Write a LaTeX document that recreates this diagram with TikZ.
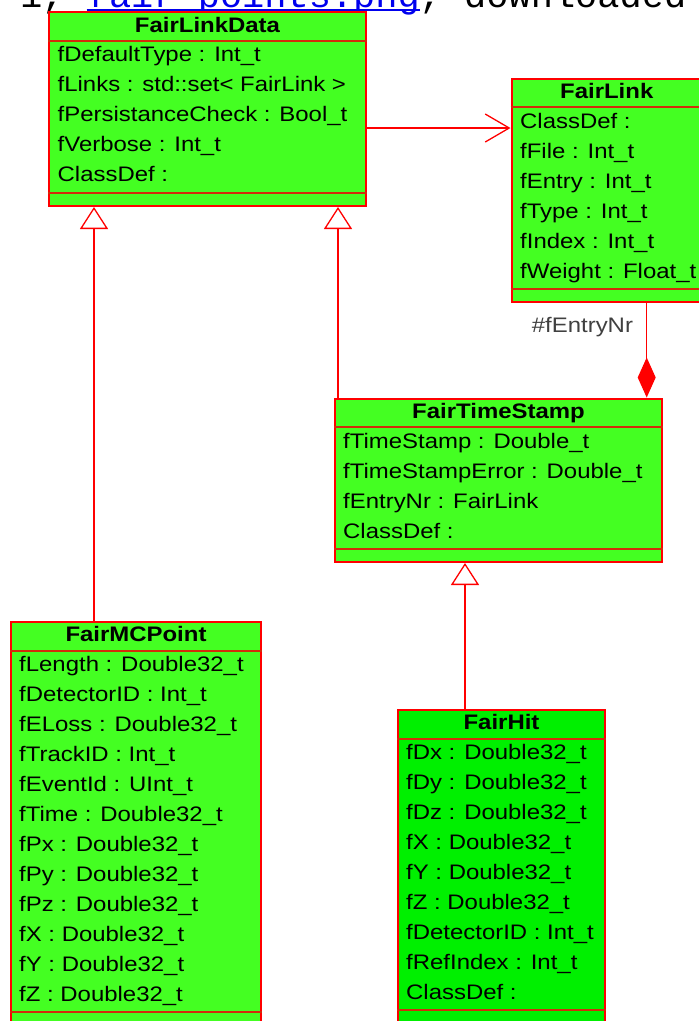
\documentclass[tikz,border=0pt]{standalone}
\usepackage{fontspec}
\usetikzlibrary{arrows.meta}
\newfontfamily\umlfont{Liberation Sans}[FakeStretch=1.14]
\newfontfamily\hdrfont{Liberation Mono}
\definecolor{umlgreen}{RGB}{68,255,34}
\definecolor{hitgreen}{RGB}{0,240,0}
\definecolor{umlred}{RGB}{255,0,0}
\definecolor{sepred}{RGB}{210,45,10}
\definecolor{lblgray}{RGB}{64,64,64}
\definecolor{linkblue}{RGB}{0,0,238}
\tikzset{
  classbox/.style={draw=umlred, line width=2pt, fill=umlgreen, inner sep=0pt, anchor=north west},
  sepline/.style={draw=sepred, line width=2pt},
  attr/.style={anchor=base west, inner sep=0pt, font={\umlfont\fontsize{21pt}{25pt}\selectfont}},
  ctitle/.style={anchor=base, inner sep=0pt, font={\umlfont\bfseries\fontsize{21pt}{25pt}\selectfont}},
  lbl/.style={anchor=base east, inner sep=0pt, text=lblgray, font={\umlfont\fontsize{21pt}{25pt}\selectfont}},
  hdr/.style={anchor=base west, inner sep=0pt, font={\hdrfont\fontsize{37pt}{40pt}\selectfont}},
  conn/.style={draw=umlred, line width=1.3pt},
  assoc/.style={conn, -{Straight Barb[length=24pt,width=28pt]}},
  inherit/.style={conn, -{Triangle[length=22pt,width=28pt,fill=white]}},
  compose/.style={conn, -{Diamond[length=40pt,width=18pt]}},
}
\begin{document}
\begin{tikzpicture}[x=1pt,y=-1pt]
\useasboundingbox (0,0) rectangle (699,1021);

% header (cut off at the top)
\node[hdr] (hd1) at (20,7.5) {1,};
\node[hdr, text=linkblue] (hd2) at (86.6,7.5) {fair\_points.png};
\node[hdr] (hd3) at (419.6,7.5) {, downloaded};
\draw[linkblue, line width=1.5pt] ([yshift=-2.5pt]hd2.base west) -- ([yshift=-2.5pt]hd2.base east);

% ---------- FairLinkData
\node[classbox, minimum width=317pt, minimum height=194pt] (fld) at (48,11) {};
\draw[sepline] ([yshift=-29.5pt]fld.north west) -- ([yshift=-29.5pt]fld.north east);
\draw[sepline] ([yshift=14pt]fld.south west) -- ([yshift=14pt]fld.south east);
\node[ctitle] (fldT) at ([yshift=-21pt]fld.north) {FairLinkData};
\foreach \t [count=\i from 0] in {fDefaultType : Int\_t, fLinks : std::set< FairLink >, fPersistanceCheck : Bool\_t, fVerbose : Int\_t, ClassDef :}{
  \pgfmathsetmacro\yy{-50.5-30*\i}
  \node[attr] (fld-\i) at ([xshift=9.5pt,yshift=\yy pt]fld.north west) {\t};
}

% ---------- FairLink
\node[classbox, minimum width=190.5pt, minimum height=223pt] (flink) at (510.5,77.5) {};
\draw[sepline] ([yshift=-29pt]flink.north west) -- ([yshift=-29pt]flink.north east);
\draw[sepline] ([yshift=13.5pt]flink.south west) -- ([yshift=13.5pt]flink.south east);
\node[ctitle] (flinkT) at ([yshift=-21pt]flink.north) {FairLink};
\foreach \t [count=\i from 0] in {ClassDef :, fFile : Int\_t, fEntry : Int\_t, fType : Int\_t, fIndex : Int\_t, fWeight : Float\_t}{
  \pgfmathsetmacro\yy{-51-30*\i}
  \node[attr] (flink-\i) at ([xshift=9.5pt,yshift=\yy pt]flink.north west) {\t};
}

% ---------- FairTimeStamp
\node[classbox, minimum width=327pt, minimum height=163.5pt] (fts) at (334,397.5) {};
\draw[sepline] ([yshift=-29.5pt]fts.north west) -- ([yshift=-29.5pt]fts.north east);
\draw[sepline] ([yshift=14pt]fts.south west) -- ([yshift=14pt]fts.south east);
\node[ctitle] (ftsT) at ([yshift=-20.5pt]fts.north) {FairTimeStamp};
\foreach \t [count=\i from 0] in {fTimeStamp : Double\_t, fTimeStampError : Double\_t, fEntryNr : FairLink, ClassDef :}{
  \pgfmathsetmacro\yy{-50.5-30*\i}
  \node[attr] (fts-\i) at ([xshift=9pt,yshift=\yy pt]fts.north west) {\t};
}

% ---------- FairMCPoint
\node[classbox, minimum width=250pt, minimum height=420pt] (fmc) at (10,621) {};
\draw[sepline] ([yshift=-30pt]fmc.north west) -- ([yshift=-30pt]fmc.north east);
\draw[sepline] ([yshift=-390.5pt]fmc.north west) -- ([yshift=-390.5pt]fmc.north east);
\node[ctitle] (fmcT) at ([yshift=-20.5pt]fmc.north) {FairMCPoint};
\foreach \t [count=\i from 0] in {fLength : Double32\_t, fDetectorID : Int\_t, fELoss : Double32\_t, fTrackID : Int\_t, fEventId : UInt\_t, fTime : Double32\_t, fPx : Double32\_t, fPy : Double32\_t, fPz : Double32\_t, fX : Double32\_t, fY : Double32\_t, fZ : Double32\_t}{
  \pgfmathsetmacro\yy{-50.5-30*\i}
  \node[attr] (fmc-\i) at ([xshift=9pt,yshift=\yy pt]fmc.north west) {\t};
}

% ---------- FairHit
\node[classbox, fill=hitgreen, minimum width=207pt, minimum height=330pt] (fh) at (397,709) {};
\draw[sepline] ([yshift=-30pt]fh.north west) -- ([yshift=-30pt]fh.north east);
\draw[sepline] ([yshift=-300.5pt]fh.north west) -- ([yshift=-300.5pt]fh.north east);
\node[ctitle] (fhT) at ([yshift=-20.5pt]fh.north) {FairHit};
\foreach \t [count=\i from 0] in {fDx : Double32\_t, fDy : Double32\_t, fDz : Double32\_t, fX : Double32\_t, fY : Double32\_t, fZ : Double32\_t, fDetectorID : Int\_t, fRefIndex : Int\_t, ClassDef :}{
  \pgfmathsetmacro\yy{-50.5-30*\i}
  \node[attr] (fh-\i) at ([xshift=9pt,yshift=\yy pt]fh.north west) {\t};
}

% ---------- connectors
\coordinate (aS) at ([yshift=-117pt]fld.north east);
\draw[assoc] (aS) -- (aS -| flink.west);

\coordinate (i1) at ([xshift=84pt]fmc.north west);
\draw[inherit] (i1) -- (i1 |- fld.south);

\coordinate (i2) at ([xshift=4pt]fts.north west);
\draw[inherit] (i2) -- (i2 |- fld.south);

\coordinate (i3) at ([xshift=68pt]fh.north west);
\draw[inherit] (i3) -- (i3 |- fts.south);

\coordinate (cS) at ([xshift=136.2pt]flink.south west);
\draw[compose] (cS) -- (cS |- fts.north);
\node[lbl] (lblEntry) at ([xshift=-13.5pt,yshift=-29.5pt]cS) {\#fEntryNr};
\end{tikzpicture}
\end{document}
